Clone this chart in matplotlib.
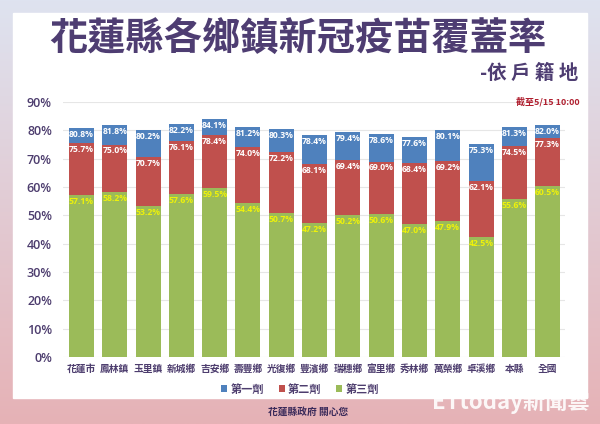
import numpy as np
import matplotlib.pyplot as plt
from matplotlib.patches import Rectangle

plt.rcParams['font.family'] = ['Noto Sans CJK TC', 'DejaVu Sans']

towns = ["花蓮市", "鳳林鎮", "玉里鎮", "新城鄉", "吉安鄉", "壽豐鄉", "光復鄉", "豐濱鄉",
         "瑞穗鄉", "富里鄉", "秀林鄉", "萬榮鄉", "卓溪鄉", "本縣", "全國"]
dose1 = [80.8, 81.8, 80.2, 82.2, 84.1, 81.2, 80.3, 78.4, 79.4, 78.6, 77.6, 80.1, 75.3, 81.3, 82.0]
dose2 = [75.7, 75.0, 70.7, 76.1, 78.4, 74.0, 72.2, 68.1, 69.4, 69.0, 68.4, 69.2, 62.1, 74.5, 77.3]
dose3 = [57.1, 58.2, 53.2, 57.6, 59.5, 54.4, 50.7, 47.2, 50.2, 50.6, 47.0, 47.9, 42.5, 55.6, 60.5]
series = ["第一劑", "第二劑", "第三劑"]

blue, red, green = "#4f81bd", "#c0504d", "#9bbb59"
purple = "#4d3d6e"
W, H = 600, 424

fig = plt.figure(figsize=(6, 4.24), dpi=100)

# background gradient + white panel
bg = fig.add_axes([0, 0, 1, 1], zorder=-10)
grad = np.linspace(0, 1, 256).reshape(-1, 1)
top_c = np.array([0xde, 0xe3, 0xf0]) / 255
bot_c = np.array([0xe6, 0xb2, 0xb6]) / 255
img = top_c[None, None, :] * (1 - grad[:, :, None]) + bot_c[None, None, :] * grad[:, :, None]
bg.imshow(img, aspect='auto', extent=[0, W, H, 0])
bg.add_patch(Rectangle((13, 13), 574, 385, color="white"))
bg.set_xlim(0, W)
bg.set_ylim(H, 0)
bg.axis("off")

ax = fig.add_axes([63 / W, (H - 357) / H, 502 / W, 255 / H])
x = np.arange(len(towns))
bw = 0.75
ax.bar(x, dose1, bw, color=blue, label=series[0], zorder=2)
ax.bar(x, dose2, bw, color=red, label=series[1], zorder=3)
ax.bar(x, dose3, bw, color=green, label=series[2], zorder=4)

for i in x:
    for v, c in ((dose1[i], "white"), (dose2[i], "white"), (dose3[i], "#eef20a")):
        ax.text(i, v - 0.7, f"{v:.1f}%", ha="center", va="top", color=c,
                fontsize=6.2, fontweight="bold", family="Open Sans", zorder=6)

ax.set_xlim(-0.555, 14.52)
ax.set_ylim(0, 90)
ax.set_yticks(range(0, 91, 10))
ax.set_yticklabels([f"{t}%" for t in range(0, 91, 10)], color=purple,
                   fontsize=9, fontweight="semibold", family="Open Sans")
ax.set_xticks(x)
ax.set_xticklabels(towns, color=purple, fontsize=7, fontweight="bold")
ax.tick_params(axis="y", length=0, pad=8)
ax.tick_params(axis="x", length=0, pad=5)
ax.grid(axis="y", color="#e6e6e6", linewidth=0.8, zorder=0)
ax.set_axisbelow(True)
for s in ax.spines.values():
    s.set_visible(False)
ax.patch.set_alpha(0)

ax.legend(loc="center", bbox_to_anchor=((300 - 63) / 502, -32 / 255), ncol=3,
          frameon=False, handlelength=0.55, handleheight=0.55, handletextpad=0.3,
          columnspacing=1.3, labelcolor=purple, prop={"weight": "bold", "size": 8})

fig.text(298 / W, 1 - 38 / H, "花蓮縣各鄉鎮新冠疫苗覆蓋率", ha="center", va="center",
         fontsize=27.5, fontweight="black", color="#4e3d72")
fig.text(578 / W, 1 - 73 / H, "-依 戶 籍 地", ha="right", va="center",
         fontsize=14, fontweight="black", color="#4e3d72")
fig.text(580 / W, 1 - 102 / H, "截至5/15 10:00", ha="right", va="center",
         fontsize=6.5, fontweight="bold", color="#b02030")
fig.text(268 / W, 1 - 412 / H, "花蓮縣政府 關心您", ha="left", va="center",
         fontsize=7, fontweight="bold", color="#3a2a5a")
fig.text(590 / W, 1 - 402 / H, "ETtoday新聞雲", ha="right", va="center",
         fontsize=16, fontweight="bold", color="white", alpha=0.9)

fig.savefig("out.png", dpi=100)
